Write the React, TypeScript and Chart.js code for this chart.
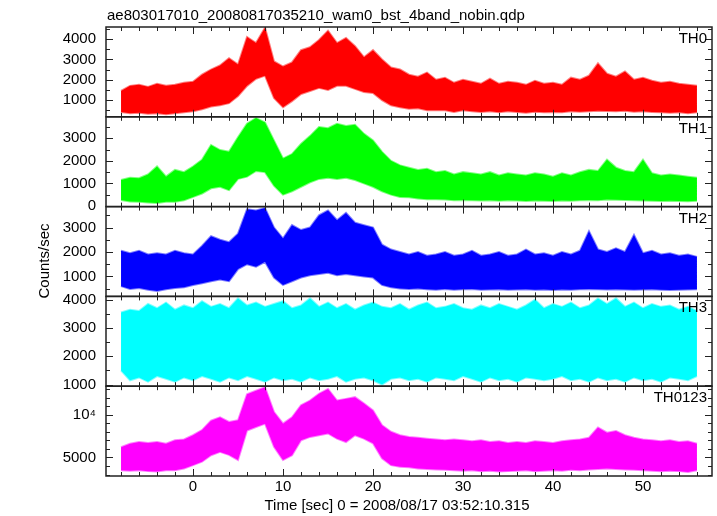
import { useEffect, useRef } from 'react';
import { Chart, registerables } from 'chart.js';

Chart.register(...registerables);

// ---- Data (envelope lows/highs per 1 s bin) ----
const times = [-8, -7, -6, -5, -4, -3, -2, -1, 0, 1, 2, 3, 4, 5, 6, 7, 8, 9, 10, 11, 12, 13, 14, 15, 16, 17, 18, 19, 20, 21, 22, 23, 24, 25, 26, 27, 28, 29, 30, 31, 32, 33, 34, 35, 36, 37, 38, 39, 40, 41, 42, 43, 44, 45, 46, 47, 48, 49, 50, 51, 52, 53, 54, 55, 56];

const th0Hi = [1450, 1700, 1750, 1650, 1800, 1700, 1750, 1850, 1900, 2250, 2500, 2700, 3050, 2750, 4100, 3800, 4550, 2900, 2650, 2850, 3450, 3600, 3950, 4400, 3800, 4050, 3650, 3100, 3450, 3000, 2600, 2500, 2250, 2150, 2350, 2000, 2100, 1850, 2000, 1900, 1800, 2050, 1800, 1900, 1850, 1750, 1950, 1800, 1850, 1750, 2100, 2000, 2200, 2800, 2300, 2150, 2400, 2000, 2100, 1950, 1850, 1900, 1800, 1750, 1700];
const th0Lo = [420, 350, 380, 330, 360, 300, 350, 400, 450, 550, 680, 750, 850, 1200, 1700, 2050, 2200, 1100, 650, 950, 1300, 1450, 1600, 1500, 1700, 1700, 1550, 1400, 1350, 1000, 750, 650, 580, 600, 500, 500, 500, 420, 500, 450, 420, 450, 400, 450, 420, 380, 430, 400, 420, 400, 450, 430, 450, 480, 470, 450, 480, 430, 450, 420, 400, 380, 400, 350, 400];

const th1Hi = [1150, 1250, 1230, 1400, 1750, 1300, 1600, 1500, 1750, 2050, 2700, 2480, 2400, 3050, 3650, 3900, 3700, 2900, 2100, 2300, 2750, 3100, 3500, 3450, 3650, 3550, 3600, 3200, 2900, 2400, 2000, 1800, 1700, 1600, 1650, 1500, 1550, 1400, 1500, 1450, 1400, 1500, 1350, 1450, 1400, 1350, 1450, 1400, 1300, 1450, 1350, 1500, 1600, 1550, 2050, 1700, 1550, 1500, 2050, 1450, 1350, 1400, 1350, 1300, 1250];
const th1Lo = [260, 200, 190, 150, 130, 180, 190, 250, 400, 550, 780, 850, 700, 1200, 1300, 1550, 1500, 900, 500, 650, 850, 1050, 1200, 1250, 1200, 1250, 1150, 1000, 850, 650, 500, 400, 380, 330, 300, 300, 280, 250, 260, 250, 240, 250, 230, 250, 240, 220, 240, 230, 220, 240, 230, 250, 260, 250, 280, 270, 260, 250, 240, 230, 220, 230, 220, 210, 230];

const th2Hi = [2050, 1950, 2050, 1900, 1950, 1900, 2050, 1950, 1900, 2250, 2650, 2500, 2400, 2750, 3750, 3700, 3800, 3000, 2550, 3100, 2900, 3000, 3500, 3700, 3300, 3600, 3200, 3100, 3000, 2300, 2100, 2000, 1900, 2000, 1850, 1900, 2000, 1850, 1900, 2050, 1850, 1900, 2000, 1850, 1900, 2100, 1900, 1950, 1850, 2000, 1900, 2050, 2850, 2100, 2000, 2150, 2000, 2700, 1950, 2050, 1900, 1950, 1850, 1900, 1800];
const th2Lo = [600, 480, 520, 450, 400, 470, 520, 550, 650, 720, 800, 870, 800, 1300, 1500, 1400, 1600, 950, 650, 800, 950, 1050, 1100, 1150, 1050, 1100, 1050, 1000, 950, 650, 550, 500, 480, 500, 470, 450, 480, 450, 470, 480, 450, 460, 470, 450, 460, 470, 450, 460, 440, 460, 450, 470, 480, 470, 460, 470, 460, 450, 460, 470, 450, 440, 450, 460, 470];

const th3Hi = [3550, 3650, 3600, 3850, 3700, 3900, 3650, 3800, 3700, 3950, 3750, 3850, 3700, 4050, 3800, 3900, 3750, 3850, 3950, 3700, 3800, 4050, 3750, 3900, 3700, 3850, 3650, 3800, 3900, 3750, 3700, 3850, 3650, 3800, 3900, 3700, 3750, 3850, 3700, 3650, 3800, 3700, 3850, 3750, 3650, 3800, 4000, 3700, 3850, 3750, 3900, 3700, 3800, 4050, 3850, 4050, 3750, 3900, 3700, 3850, 3750, 3800, 3650, 3750, 3600];
const th3Lo = [1500, 1150, 1250, 1100, 1300, 1200, 1100, 1250, 1150, 1300, 1200, 1100, 1250, 1150, 1300, 1200, 1100, 1250, 1150, 1200, 1100, 1250, 1150, 1200, 1300, 1100, 1200, 1250, 1150, 1000, 1200, 1250, 1150, 1200, 1100, 1250, 1200, 1150, 1300, 1200, 1100, 1250, 1150, 1200, 1100, 1250, 1200, 1150, 1200, 1300, 1150, 1200, 1100, 1250, 1150, 1200, 1100, 1250, 1150, 1200, 1100, 1250, 1200, 1150, 1300];

const th0123Hi = [6200, 6600, 6800, 6700, 6800, 6600, 7000, 7100, 7600, 8200, 9300, 9700, 9150, 9350, 12400, 12800, 13200, 10300, 8950, 9700, 11100, 11650, 12450, 13000, 11650, 11850, 12050, 11300, 10500, 8750, 8000, 7600, 7400, 7300, 7200, 7100, 7000, 7100, 7000, 6900, 7000, 6800, 6900, 6700, 6800, 6700, 6900, 6800, 6700, 6900, 7000, 7100, 7300, 8500, 7900, 8100, 7600, 7300, 7100, 7000, 6900, 7000, 6800, 6900, 6600];
const th0123Lo = [3500, 3450, 3500, 3400, 3350, 3500, 3500, 3700, 4100, 4500, 5250, 5650, 5300, 4700, 8150, 8550, 8950, 6250, 4700, 5250, 7000, 7400, 7600, 7800, 7200, 6800, 7600, 7200, 6650, 4900, 4100, 3900, 3850, 3700, 3650, 3600, 3550, 3500, 3450, 3500, 3400, 3450, 3350, 3400, 3450, 3500, 3400, 3450, 3500, 3450, 3550, 3500, 3600, 3650, 3700, 3650, 3600, 3550, 3500, 3450, 3400, 3450, 3400, 3300, 3500];

const panelNames = ['TH0', 'TH1', 'TH2', 'TH3', 'TH0123'];
const panelColors = ['#ff0000', '#00ff00', '#0000ff', '#00ffff', '#ff00ff'];
const panelFringe = ['rgba(255,0,0,0.5)', 'rgba(0,255,0,0.5)', 'rgba(0,0,255,0.5)', 'rgba(0,255,255,0.5)', 'rgba(255,0,255,0.5)'];
const yMins = [180, -30, 180, 940, 2830];
const yMaxs = [4590, 3956, 3860, 4120, 13330];
const yLabelTicks = [[1000, 2000, 3000, 4000], [0, 1000, 2000, 3000], [1000, 2000, 3000], [1000, 2000, 3000, 4000], [5000, 10000]];
const yMinorSteps = [500, 500, 500, 500, 1000];
const xLabelTicks = [0, 10, 20, 30, 40, 50];
const xMinorStep = 2;
const xMin = -9.67;
const xMax = 57.67;

const titleText = 'ae803017010_20080817035210_wam0_bst_4band_nobin.qdp';
const xTitleText = 'Time [sec] 0 = 2008/08/17 03:52:10.315';
const yTitleText = 'Counts/sec';

const FONT = '"Liberation Sans", Arial, Helvetica, sans-serif';

const panelHi = [th0Hi, th1Hi, th2Hi, th3Hi, th0123Hi];
const panelLo = [th0Lo, th1Lo, th2Lo, th3Lo, th0123Lo];

const framePlugin = {
  id: 'panelFrame',
  afterDatasetsDraw(chart: any) {
    const { ctx, chartArea } = chart;
    const xs = chart.scales.x;
    const L = chartArea.left;
    const R = chartArea.right;
    ctx.save();
    ctx.strokeStyle = '#222';
    for (let i = 0; i < panelNames.length; i++) {
      const ys = chart.scales['y' + i];
      const T = ys.top;
      const B = ys.bottom;
      ctx.lineWidth = 1;
      ctx.beginPath();
      const startT = Math.ceil(xMin / xMinorStep) * xMinorStep;
      for (let t = startT; t <= xMax; t += xMinorStep) {
        const px = Math.round(xs.getPixelForValue(t)) + 0.5;
        const len = t % 10 === 0 ? 7 : 4;
        ctx.moveTo(px, T);
        ctx.lineTo(px, T + len);
        ctx.moveTo(px, B);
        ctx.lineTo(px, B - len);
      }
      const step = yMinorSteps[i];
      for (let v = Math.ceil(yMins[i] / step) * step; v <= yMaxs[i]; v += step) {
        const py = Math.round(ys.getPixelForValue(v)) + 0.5;
        const len = yLabelTicks[i].includes(v) ? 7 : 4;
        ctx.moveTo(L, py);
        ctx.lineTo(L + len, py);
        ctx.moveTo(R, py);
        ctx.lineTo(R - len, py);
      }
      ctx.stroke();
      ctx.lineWidth = 1.5;
      ctx.strokeRect(L, T, R - L, B - T);

      ctx.fillStyle = '#000';
      ctx.font = '15px ' + FONT;
      ctx.textAlign = 'right';
      ctx.textBaseline = 'alphabetic';
      ctx.fillText(panelNames[i], 707, T + 16);
    }
    ctx.fillStyle = '#000';
    ctx.font = '15px ' + FONT;
    ctx.textAlign = 'left';
    ctx.textBaseline = 'alphabetic';
    ctx.fillText(titleText, 107, 20);
    ctx.textAlign = 'center';
    ctx.fillText(xTitleText, 397, 510);
    ctx.translate(49, 261);
    ctx.rotate(-Math.PI / 2);
    ctx.fillText(yTitleText, 0, 0);
    ctx.restore();
  },
};

export default function App() {
  const ref = useRef<HTMLCanvasElement | null>(null);

  useEffect(() => {
    if (!ref.current) return;
    const datasets: any[] = [];
    for (let i = 0; i < panelNames.length; i++) {
      datasets.push({
        label: panelNames[i] + ' low',
        data: times.map((t, k) => ({ x: t, y: panelLo[i][k] })),
        yAxisID: 'y' + i,
        borderColor: panelFringe[i],
        borderWidth: 2,
        pointRadius: 0,
        fill: false,
      });
      datasets.push({
        label: panelNames[i],
        data: times.map((t, k) => ({ x: t, y: panelHi[i][k] })),
        yAxisID: 'y' + i,
        borderColor: panelFringe[i],
        borderWidth: 2,
        pointRadius: 0,
        backgroundColor: panelColors[i],
        fill: '-1',
      });
    }

    const scales: any = {
      x: {
        type: 'linear',
        position: 'bottom',
        min: xMin,
        max: xMax,
        grid: { display: false, drawTicks: false },
        border: { display: false },
        ticks: {
          color: '#000',
          font: { size: 15, family: FONT },
          padding: 2,
          maxRotation: 0,
          autoSkip: false,
          callback: (v: any) => String(v),
        },
        afterBuildTicks: (s: any) => {
          s.ticks = xLabelTicks.map((v) => ({ value: v }));
        },
        afterFit: (s: any) => {
          s.height = 40;
        },
      },
    };
    // later-defined stacked axes are placed on top; define bottom panel first
    for (let i = panelNames.length - 1; i >= 0; i--) {
      scales['y' + i] = {
        type: 'linear',
        position: 'left',
        stack: 'panels',
        stackWeight: 1,
        min: yMins[i],
        max: yMaxs[i],
        grid: { display: false, drawTicks: false },
        border: { display: false },
        ticks: {
          color: '#000',
          font: { size: 15, family: FONT },
          padding: 10,
          autoSkip: false,
          callback: (v: any) => (v === 10000 ? '10\u2074' : String(v)),
        },
        afterBuildTicks: (s: any) => {
          s.ticks = yLabelTicks[i].map((v) => ({ value: v }));
        },
        afterFit: (s: any) => {
          s.width = 106;
        },
      };
    }

    const chart = new Chart(ref.current, {
      type: 'line',
      data: { datasets },
      options: {
        responsive: false,
        animation: false,
        events: [],
        layout: { padding: { top: 27, right: 5, left: 0, bottom: 0 } },
        elements: { line: { tension: 0 } },
        plugins: {
          legend: { display: false },
          tooltip: { enabled: false },
          title: { display: false },
        },
        scales,
      },
      plugins: [framePlugin],
    });
    return () => chart.destroy();
  }, []);

  return (
    <div style={{ position: 'absolute', left: 0, top: 0, width: 717, height: 516, background: '#fff' }}>
      <canvas ref={ref} width={717} height={516} style={{ display: 'block', width: 717, height: 516 }} />
    </div>
  );
}
